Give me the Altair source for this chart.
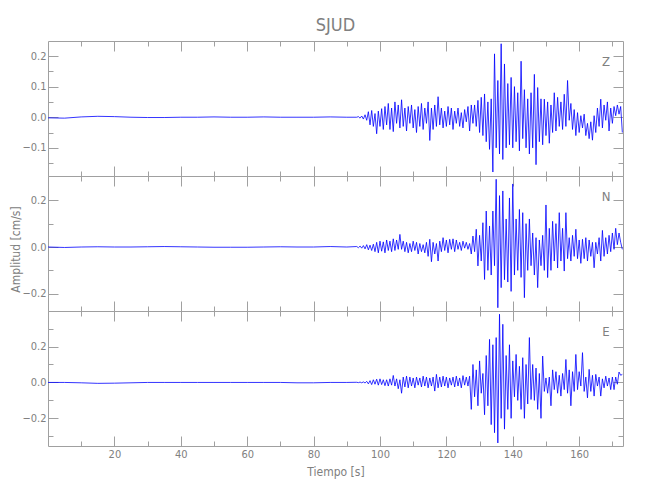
import altair as alt
import pandas as pd

# ---------------- data ----------------
X_DOMAIN = [0, 173.2]
X_MAJOR = [20, 40, 60, 80, 100, 120, 140, 160]
X_MINOR = [10, 30, 50, 70, 90, 110, 130, 150, 170]

# quiet part of the records (sampled every 5 s)
T_QUIET = [0, 5, 10, 15, 20, 25, 30, 35, 40, 45, 50, 55, 60, 65, 70, 75, 80, 85, 90]
Z_QUIET = [-0.002, -0.003, 0.001, 0.003, 0.002, 0.000, -0.001, -0.001, 0.000, 0.000,
           0.001, 0.000, 0.000, 0.001, 0.000, 0.000, 0.000, 0.001, 0.000]
N_QUIET = [0.000, -0.002, 0.000, 0.001, 0.000, 0.000, 0.001, 0.002, 0.001, 0.000,
           -0.001, -0.001, -0.001, 0.000, 0.001, 0.000, 0.000, 0.002, 0.000]
E_QUIET = [0.000, 0.000, -0.002, -0.005, -0.004, -0.002, 0.000, 0.000, 0.000, 0.000,
           0.000, 0.000, 0.000, 0.000, 0.000, -0.002, -0.002, 0.000, 0.000]

# active part: samples every 0.5 s starting at 93 s (one row = 5 s)
T_ACTIVE_START = 93.0
T_ACTIVE_STEP = 0.5

Z_ACTIVE = [
    0.000, 0.002, -0.003, 0.004, -0.006, 0.008, -0.010, 0.018, -0.025, 0.022,
    -0.030, 0.012, -0.054, 0.020, -0.030, 0.028, -0.040, 0.035, -0.025, 0.045,
    -0.040, 0.030, -0.047, 0.050, -0.020, 0.040, -0.035, 0.057, -0.030, 0.030,
    -0.045, 0.035, -0.020, 0.040, -0.035, 0.025, -0.050, 0.035, -0.030, 0.045,
    -0.040, 0.030, -0.020, 0.050, -0.076, 0.030, -0.040, 0.040, -0.030, 0.067,
    -0.025, 0.030, -0.035, 0.020, -0.030, 0.035, -0.025, 0.030, -0.040, 0.020,
    -0.020, 0.030, -0.030, 0.015, -0.035, 0.025, -0.015, 0.035, -0.045, 0.040,
    -0.020, 0.040, -0.030, 0.055, -0.050, 0.065, -0.060, 0.076, -0.080, 0.050,
    -0.105, 0.060, -0.179, 0.207, -0.100, 0.120, -0.120, 0.240, -0.138, 0.174,
    -0.100, 0.110, -0.090, 0.130, -0.100, 0.100, -0.080, 0.080, -0.110, 0.183,
    -0.070, 0.090, -0.100, 0.060, -0.120, 0.080, -0.100, 0.140, -0.155, 0.097,
    -0.080, 0.060, -0.090, 0.059, -0.060, 0.050, -0.085, 0.040, -0.050, 0.080,
    -0.045, 0.065, -0.030, 0.050, -0.040, 0.075, -0.030, 0.120, -0.010, 0.045,
    -0.040, 0.025, -0.060, 0.015, -0.050, 0.005, -0.035, 0.010, -0.060, -0.020,
    -0.070, -0.015, -0.075, 0.005, -0.050, 0.030, -0.030, 0.059, -0.035, 0.040,
    -0.010, 0.050, -0.045, 0.030, -0.020, 0.035, 0.005, 0.040, 0.010, 0.035,
    -0.050,
]
N_ACTIVE = [
    0.002, -0.003, 0.004, -0.005, 0.006, -0.008, 0.010, -0.012, 0.008, -0.015,
    0.012, -0.020, 0.020, -0.025, 0.025, -0.018, 0.022, -0.025, 0.030, -0.015,
    0.025, -0.020, 0.035, -0.015, 0.030, -0.010, 0.054, -0.010, 0.025, -0.020,
    0.020, -0.025, 0.015, -0.020, 0.025, -0.015, 0.020, -0.030, 0.015, -0.020,
    0.010, -0.025, 0.020, -0.040, 0.033, -0.063, 0.020, -0.030, 0.015, -0.060,
    0.025, -0.020, 0.040, -0.015, 0.030, -0.025, 0.033, -0.010, 0.035, -0.020,
    0.030, -0.010, 0.020, -0.015, 0.025, -0.005, 0.020, -0.010, 0.015, -0.030,
    0.047, -0.020, 0.076, -0.081, 0.050, -0.060, 0.104, -0.139, 0.154, -0.100,
    0.090, -0.120, 0.154, -0.080, 0.290, -0.260, 0.220, -0.174, 0.240, -0.140,
    0.120, -0.150, 0.210, -0.190, 0.270, -0.120, 0.120, -0.100, 0.161, -0.130,
    0.147, -0.217, 0.100, -0.100, 0.120, -0.080, 0.060, -0.120, 0.040, -0.174,
    0.030, -0.080, 0.050, -0.100, 0.180, -0.131, 0.080, -0.100, 0.110, -0.060,
    0.100, -0.090, 0.147, -0.060, 0.080, -0.103, 0.147, -0.050, 0.040, -0.060,
    0.050, -0.040, 0.076, -0.050, 0.030, -0.070, 0.033, -0.050, 0.040, -0.060,
    0.030, -0.040, 0.020, -0.089, 0.020, -0.030, 0.040, -0.060, 0.071, -0.040,
    0.040, -0.030, 0.050, -0.020, 0.060, -0.010, 0.080, 0.010, 0.060, 0.020,
    -0.010,
]
E_ACTIVE = [
    0.001, -0.001, 0.002, -0.002, 0.003, -0.003, 0.006, -0.008, 0.010, -0.012,
    0.015, -0.010, 0.018, -0.015, 0.020, -0.012, 0.015, -0.018, 0.015, -0.020,
    0.020, -0.015, 0.039, -0.020, 0.020, -0.035, 0.015, -0.060, 0.030, -0.025,
    0.035, -0.030, 0.030, -0.020, 0.025, -0.030, 0.030, -0.015, 0.025, -0.025,
    0.035, -0.020, 0.030, -0.030, 0.025, -0.020, 0.030, -0.048, 0.045, -0.030,
    0.030, -0.025, 0.035, -0.020, 0.030, -0.030, 0.025, -0.015, 0.030, -0.025,
    0.035, -0.020, 0.025, -0.030, 0.038, -0.015, 0.030, -0.020, 0.035, -0.150,
    0.100, -0.080, 0.070, -0.130, 0.120, -0.060, 0.050, -0.180, 0.150, -0.130,
    0.240, -0.235, 0.210, -0.280, 0.250, -0.337, 0.380, -0.200, 0.324, -0.260,
    0.150, -0.150, 0.210, -0.200, 0.120, -0.080, 0.156, -0.100, 0.090, -0.150,
    0.138, -0.200, 0.100, -0.120, 0.250, -0.095, 0.100, -0.100, 0.080, -0.150,
    0.050, -0.200, 0.147, -0.050, 0.025, -0.060, 0.030, -0.130, 0.070, -0.040,
    0.060, -0.060, 0.040, -0.076, 0.050, -0.040, 0.128, -0.060, 0.070, -0.130,
    0.060, -0.050, 0.156, -0.040, 0.060, -0.020, 0.166, -0.050, 0.030, -0.086,
    0.073, -0.050, 0.040, -0.076, 0.045, -0.020, 0.030, -0.076, 0.020, -0.030,
    0.035, -0.020, 0.025, -0.040, 0.030, -0.040, 0.030, -0.010, 0.058, 0.040,
    0.045,
]

COMPONENTS = ["Z", "N", "E"]
Y_DOMAINS = {"Z": [-0.192, 0.249], "N": [-0.274, 0.304], "E": [-0.354, 0.398]}
Y_MAJOR = {"Z": [-0.1, 0.0, 0.1, 0.2], "N": [-0.2, 0.0, 0.2], "E": [-0.2, 0.0, 0.2]}
Y_MINOR = {"Z": [-0.15, -0.05, 0.05, 0.15], "N": [-0.1, 0.1], "E": [-0.3, -0.1, 0.1, 0.3]}

TITLE = "SJUD"
X_TITLE = "Tiempo [s]"
Y_TITLE = "Amplitud [cm/s]"

FONT = "DejaVu Sans Condensed, Liberation Sans Narrow, sans-serif"
AXIS_COL = "#a0a0a0"
TEXT_COL = "#808080"
LINE_COL = "#0000ff"

W, H = 575, 135


def trace_frame(quiet, active):
    times = list(T_QUIET) + [T_ACTIVE_START + T_ACTIVE_STEP * i for i in range(len(active))]
    return pd.DataFrame({"t": times, "v": list(quiet) + list(active)})


TRACES = {
    "Z": trace_frame(Z_QUIET, Z_ACTIVE),
    "N": trace_frame(N_QUIET, N_ACTIVE),
    "E": trace_frame(E_QUIET, E_ACTIVE),
}


def panel(comp, bottom, middle, top):
    df = TRACES[comp]
    xs = alt.Scale(domain=X_DOMAIN, nice=False, zero=False)
    ys = alt.Scale(domain=Y_DOMAINS[comp], nice=False, zero=False)
    base = alt.Chart(df)

    def enc(xaxis, yaxis):
        return dict(
            x=alt.X("t:Q", scale=xs, axis=xaxis),
            y=alt.Y("v:Q", scale=ys, axis=yaxis),
        )

    # bottom major x ticks (+labels on last panel) and left major y ticks + labels
    xa = dict(orient="bottom", values=X_MAJOR, tickSize=10, offset=-10,
              labels=bottom, labelPadding=2, format="d")
    if bottom:
        xa.update(title=X_TITLE, titleY=30)
    else:
        xa.update(title=None)
    ya = dict(orient="left", values=Y_MAJOR[comp], tickSize=10, offset=-10,
              format=".1f", labelPadding=2)
    if middle:
        ya.update(title=Y_TITLE, titleX=-36, titleY=73)
    else:
        ya.update(title=None)

    line = base.mark_line(color=LINE_COL, strokeWidth=0.8, clip=True).encode(
        **enc(alt.Axis(**xa), alt.Axis(**ya))
    )
    minor_lb = base.mark_line(strokeOpacity=0).encode(**enc(
        alt.Axis(orient="bottom", values=X_MINOR, tickSize=5, offset=-5, labels=False, title=None),
        alt.Axis(orient="left", values=Y_MINOR[comp], tickSize=5, offset=-5, labels=False, title=None),
    ))
    major_tr = base.mark_line(strokeOpacity=0).encode(**enc(
        alt.Axis(orient="top", values=X_MAJOR, tickSize=10, offset=-10, labels=False, title=None),
        alt.Axis(orient="right", values=Y_MAJOR[comp], tickSize=10, offset=-10, labels=False, title=None),
    ))
    minor_tr = base.mark_line(strokeOpacity=0).encode(**enc(
        alt.Axis(orient="top", values=X_MINOR, tickSize=5, offset=-5, labels=False, title=None),
        alt.Axis(orient="right", values=Y_MINOR[comp], tickSize=5, offset=-5, labels=False, title=None),
    ))
    label = alt.Chart(pd.DataFrame({"lab": [comp]})).mark_text(
        font=FONT, fontSize=13, color=TEXT_COL, align="center", baseline="middle"
    ).encode(text="lab:N", x=alt.value(W - 17), y=alt.value(21))

    layers = [line, minor_lb, major_tr, minor_tr, label]
    if top:
        layers.append(alt.Chart(pd.DataFrame({"ttl": [TITLE]})).mark_text(
            font=FONT, fontSize=18, color=TEXT_COL, align="center", baseline="alphabetic"
        ).encode(text="ttl:N", x=alt.value(W / 2), y=alt.value(-10)))

    return alt.layer(*layers).resolve_axis(
        x="independent", y="independent"
    ).properties(width=W, height=H)


panels = [
    panel("Z", bottom=False, middle=False, top=True),
    panel("N", bottom=False, middle=True, top=False),
    panel("E", bottom=True, middle=False, top=False),
]

chart = alt.vconcat(*panels, spacing=0, bounds="flush").properties(
    padding={"left": 0, "top": 8, "right": 5, "bottom": 5}
).configure_view(
    stroke=AXIS_COL, strokeWidth=1
).configure_axis(
    domain=False, grid=False, tickColor=AXIS_COL, tickWidth=1,
    labelColor=TEXT_COL, titleColor=TEXT_COL, labelFont=FONT, titleFont=FONT,
    labelFontSize=11, titleFontSize=12, titleFontWeight="normal",
    minExtent=0,
)

chart.save("out.html", embed_options={"renderer": "svg", "actions": False})
